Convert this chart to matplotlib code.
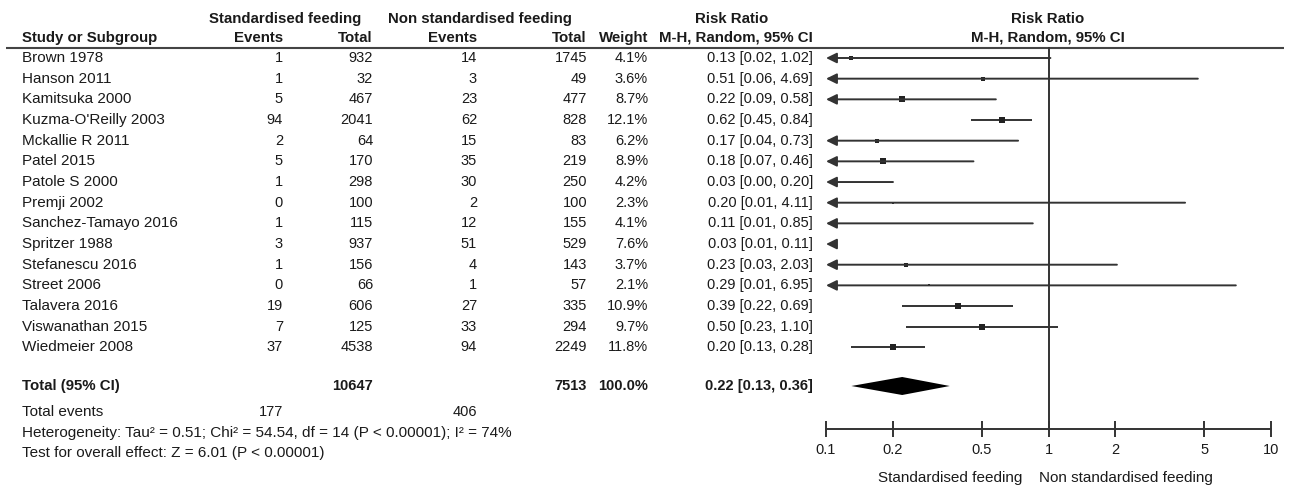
import matplotlib
matplotlib.use("Agg")
import matplotlib.pyplot as plt
import numpy as np

# ---------------- data ----------------
studies = ["Brown 1978", "Hanson 2011", "Kamitsuka 2000", "Kuzma-O'Reilly 2003",
           "Mckallie R 2011", "Patel 2015", "Patole S 2000", "Premji 2002",
           "Sanchez-Tamayo 2016", "Spritzer 1988", "Stefanescu 2016", "Street 2006",
           "Talavera 2016", "Viswanathan 2015", "Wiedmeier 2008"]
std_events = [1, 1, 5, 94, 2, 5, 1, 0, 1, 3, 1, 0, 19, 7, 37]
std_total = [932, 32, 467, 2041, 64, 170, 298, 100, 115, 937, 156, 66, 606, 125, 4538]
non_events = [14, 3, 23, 62, 15, 35, 30, 2, 12, 51, 4, 1, 27, 33, 94]
non_total = [1745, 49, 477, 828, 83, 219, 250, 100, 155, 529, 143, 57, 335, 294, 2249]
weights = [4.1, 3.6, 8.7, 12.1, 6.2, 8.9, 4.2, 2.3, 4.1, 7.6, 3.7, 2.1, 10.9, 9.7, 11.8]
rr = [0.13, 0.51, 0.22, 0.62, 0.17, 0.18, 0.03, 0.20, 0.11, 0.03, 0.23, 0.29, 0.39, 0.50, 0.20]
ci_lo = [0.02, 0.06, 0.09, 0.45, 0.04, 0.07, 0.00, 0.01, 0.01, 0.01, 0.03, 0.01, 0.22, 0.23, 0.13]
ci_hi = [1.02, 4.69, 0.58, 0.84, 0.73, 0.46, 0.20, 4.11, 0.85, 0.11, 2.03, 6.95, 0.69, 1.10, 0.28]

total_std = 10647
total_non = 7513
total_weight = "100.0%"
total_rr, total_lo, total_hi = 0.22, 0.13, 0.36
events_std_sum = 177
events_non_sum = 406
heterogeneity = "Heterogeneity: Tau\u00b2 = 0.51; Chi\u00b2 = 54.54, df = 14 (P < 0.00001); I\u00b2 = 74%"
overall = "Test for overall effect: Z = 6.01 (P < 0.00001)"
tick_vals = [0.1, 0.2, 0.5, 1, 2, 5, 10]
tick_labels = ["0.1", "0.2", "0.5", "1", "2", "5", "10"]
left_label = "Standardised feeding"
right_label = "Non standardised feeding"

# ---------------- layout ----------------
W, H = 1289, 490
FONT = "Liberation Sans"
FS_NUM = 10.5
FS_TXT = 11.0
FS_BOLD = 10.8
TXT = "#1a1a1a"
LINE = "#333333"

plt.rcParams['font.family'] = [FONT, 'DejaVu Sans']

fig = plt.figure(figsize=(W / 100, H / 100), dpi=100)
ax = fig.add_axes([0, 0, 1, 1])
ax.set_xlim(0, W)
ax.set_ylim(H, 0)
ax.axis('off')

x0_px, x1_px = 826, 1271
ax2 = fig.add_axes([x0_px / W, 0, (x1_px - x0_px) / W, 1])
ax2.set_xscale('log')
ax2.set_xlim(0.1, 10)
ax2.set_ylim(H, 0)
ax2.patch.set_alpha(0)

col_name = 22
col_se, col_st, col_ne, col_nt, col_w, col_ci = 283, 373, 477, 587, 648, 813

def t(x, y, s, ha='left', bold=False, fs=None):
    if fs is None:
        fs = FS_BOLD if bold else FS_TXT
    ax.text(x, y, s, ha=ha, va='center', fontsize=fs, color=TXT,
            fontweight='bold' if bold else 'normal')

def n(x, y, s, bold=False):
    t(x, y, s, ha='right', bold=bold, fs=FS_NUM)

# header
t(285.5, 19, "Standardised feeding", ha='center', bold=True)
t(480, 19, "Non standardised feeding", ha='center', bold=True)
t(732, 19, "Risk Ratio", ha='center', bold=True)
t(1048, 19, "Risk Ratio", ha='center', bold=True)
t(col_name, 38, "Study or Subgroup", bold=True)
t(col_se, 38, "Events", ha='right', bold=True)
t(col_st, 38, "Total", ha='right', bold=True)
t(col_ne, 38, "Events", ha='right', bold=True)
t(col_nt, 38, "Total", ha='right', bold=True)
t(col_w, 38, "Weight", ha='right', bold=True)
t(col_ci, 38, "M-H, Random, 95% CI", ha='right', bold=True)
t(1048, 38, "M-H, Random, 95% CI", ha='center', bold=True)
ax.plot([6, 1284], [48, 48], color="#444444", lw=1.5, solid_capstyle='butt')

row0, dy = 58, 20.67
for i, name in enumerate(studies):
    y = row0 + i * dy
    t(col_name, y, name)
    n(col_se, y, str(std_events[i]))
    n(col_st, y, str(std_total[i]))
    n(col_ne, y, str(non_events[i]))
    n(col_nt, y, str(non_total[i]))
    n(col_w, y, f"{weights[i]:.1f}%")
    n(col_ci, y, f"{rr[i]:.2f} [{ci_lo[i]:.2f}, {ci_hi[i]:.2f}]")

    hi = min(ci_hi[i], 10)
    if ci_lo[i] < 0.1:
        ax2.annotate('', xy=(0.1, y), xytext=(hi, y),
                     arrowprops=dict(arrowstyle='-|>,head_length=0.45,head_width=0.22',
                                     mutation_scale=14, lw=1.4, color=LINE,
                                     shrinkA=0, shrinkB=0))
    else:
        ax2.plot([ci_lo[i], hi], [y, y], color=LINE, lw=1.4, solid_capstyle='butt')
    if rr[i] >= 0.1:
        ms = 0.72 * 6.2 * np.sqrt(weights[i] / 12.1)
        ax2.plot([rr[i]], [y], marker='s', ms=ms, color="#222222", mew=0, ls='none')

ytot = 386
t(col_name, ytot, "Total (95% CI)", bold=True)
n(col_st, ytot, str(total_std), bold=True)
n(col_nt, ytot, str(total_non), bold=True)
n(col_w, ytot, total_weight, bold=True)
n(col_ci, ytot, f"{total_rr:.2f} [{total_lo:.2f}, {total_hi:.2f}]", bold=True)
ax2.fill([total_lo, total_rr, total_hi, total_rr], [ytot, ytot - 9, ytot, ytot + 9],
         color="black", lw=0)

t(col_name, 412, "Total events")
n(col_se, 412, str(events_std_sum))
n(col_ne, 412, str(events_non_sum))
t(col_name, 433, heterogeneity)
t(col_name, 453, overall)

# null line
ax2.plot([1, 1], [48, 429], color=LINE, lw=1.4)

# forest axis
for s in ['top', 'left', 'right']:
    ax2.spines[s].set_visible(False)
ax2.spines['bottom'].set_position(('data', 429))
ax2.spines['bottom'].set_color(LINE)
ax2.spines['bottom'].set_linewidth(1.4)
ax2.yaxis.set_visible(False)
ax2.set_xticks(tick_vals)
ax2.set_xticklabels(tick_labels)
ax2.xaxis.set_minor_locator(matplotlib.ticker.NullLocator())
ax2.tick_params(axis='x', direction='inout', length=12, width=1.4, color=LINE,
                labelsize=FS_NUM, labelcolor=TXT, pad=4)

t(1022, 478, left_label, ha='right')
t(1039, 478, right_label, ha='left')

fig.savefig("out.png", dpi=100)
